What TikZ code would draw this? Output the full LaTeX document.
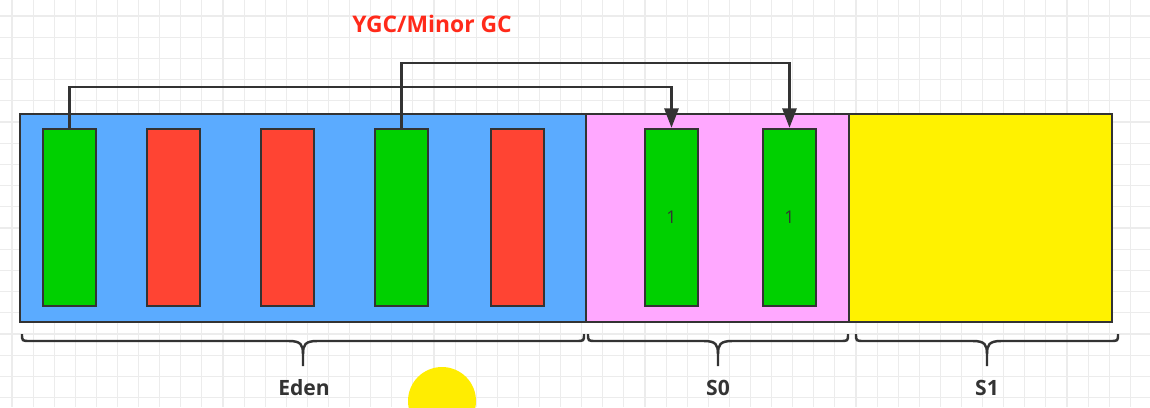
\documentclass[tikz,border=0pt]{standalone}
\usepackage{fontspec}
\setmainfont{Open Sans}
\usetikzlibrary{arrows.meta}

\definecolor{edenblue}{HTML}{5BABFF}
\definecolor{szeropink}{HTML}{FFA8FF}
\definecolor{sonegiallo}{HTML}{FFF200}
\definecolor{vivo}{HTML}{00D000}
\definecolor{morto}{HTML}{FF4433}
\definecolor{bordo}{HTML}{333333}
\definecolor{griglia}{HTML}{ECECEC}
\definecolor{titolo}{HTML}{FF2A1A}

\tikzset{
    area/.style={draw=bordo,line width=1.4pt,minimum width=5.26cm,minimum height=4.16cm,inner sep=0pt},
    oggetto/.style={draw=bordo,line width=1.4pt,minimum width=1.06cm,minimum height=3.54cm,inner sep=0pt,font=\fontsize{10}{12}\selectfont,text=bordo},
    freccia/.style={draw=bordo,line width=1.4pt,-{Triangle[length=11pt,width=8pt]}},
    graffa/.style={draw=bordo,line width=1.4pt},
    etichetta/.style={font=\fontsize{12}{14}\selectfont\bfseries,text=bordo}
}

% graffa sotto una zona: x sinistra, x destra
\newcommand{\parentesi}[2]{%
    \pgfmathsetmacro{\mezzo}{(#1+#2)/2}
    \draw[graffa](#1,334) .. controls (#1,341) .. ({#1+8},341)--({\mezzo-14},341) .. controls ({\mezzo-2},341) and (\mezzo,345) .. (\mezzo,354)--(\mezzo,366);
    \draw[graffa](#2,334) .. controls (#2,341) .. ({#2-8},341)--({\mezzo+14},341) .. controls ({\mezzo+2},341) and (\mezzo,345) .. (\mezzo,354);
}

\begin{document}
\begin{tikzpicture}[x=0.02cm,y=-0.02cm]
    \useasboundingbox(0,0)rectangle(1150,407);
    \clip(0,0)rectangle(1150,407);
    \fill[white](0,0)rectangle(1150,407);

    % griglia di sfondo
    \foreach \i in {0,...,54}
        \draw[griglia,line width=0.6pt]({12+21.1*\i},0)--++(0,407);
    \foreach \j in {0,...,18}
        \draw[griglia,line width=0.6pt](0,{16+21.2*\j})--++(1150,0);

    % zone della young generation
    \node[area,fill=edenblue,minimum width=11.32cm](eden)at(303,218){};
    \node[area,fill=szeropink](szero)at(717.5,218){};
    \node[area,fill=sonegiallo](sone)at(980.5,218){};

    % oggetti in eden
    \node[oggetto,fill=vivo](e1)at(69.5,217.5){};
    \node[oggetto,fill=morto](e2)at(173.5,217.5){};
    \node[oggetto,fill=morto](e3)at(287.5,217.5){};
    \node[oggetto,fill=vivo](e4)at(401.5,217.5){};
    \node[oggetto,fill=morto](e5)at(517.5,217.5){};

    % oggetti sopravvissuti in s0
    \node[oggetto,fill=vivo](s0a)at(671.5,217.5){1};
    \node[oggetto,fill=vivo](s0b)at(789.5,217.5){1};

    % copia dei vivi
    \coordinate(corsia1)at(0,87);
    \coordinate(corsia2)at(0,63);
    \draw[freccia](e1.north)--(e1.north|-corsia1)-|(s0a.north);
    \draw[freccia](e4.north)--(e4.north|-corsia2)-|(s0b.north);

    \node[font=\fontsize{13}{15}\selectfont\bfseries,text=titolo](ygc)at(432,24){YGC/Minor GC};

    % graffe e nomi
    \parentesi{22}{584}
    \parentesi{588}{848}
    \parentesi{856}{1118}
    \node[etichetta](leden)at(304,388){Eden};
    \node[etichetta](lszero)at(718,388){S0};
    \node[etichetta](lsone)at(987,388){S1};

    % evidenziatore del cursore
    \fill[yellow!95!orange](442,401)circle[radius=34];
\end{tikzpicture}
\end{document}
